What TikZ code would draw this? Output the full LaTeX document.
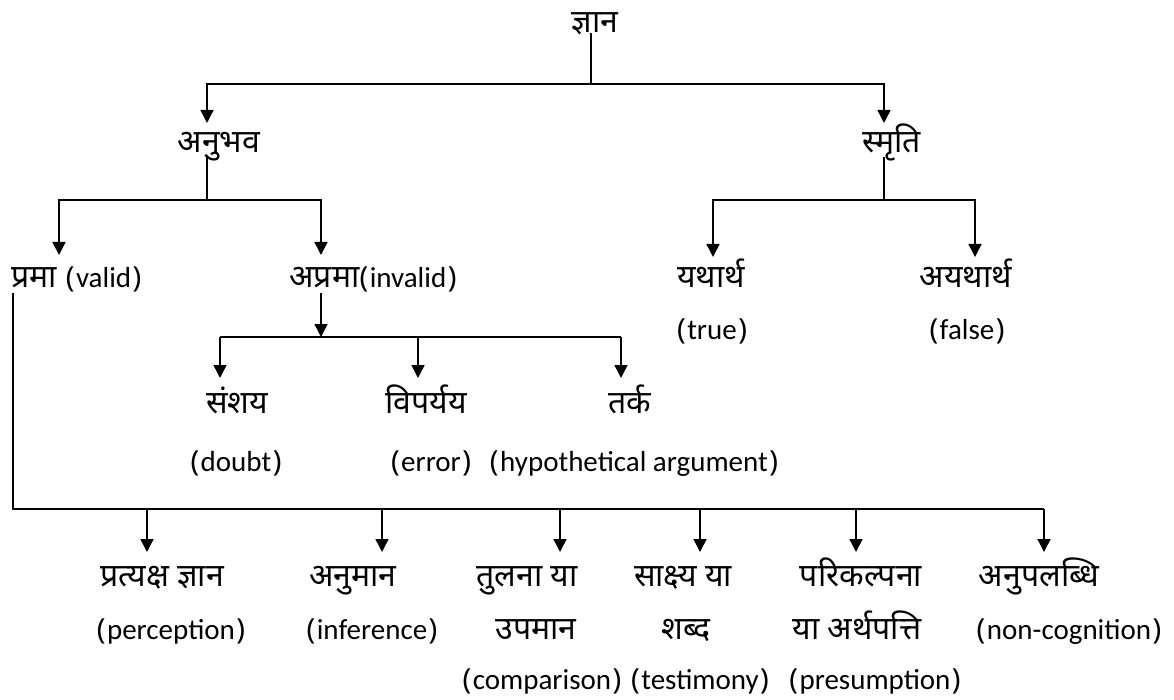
\documentclass[tikz,border=0pt]{standalone}
\usepackage{fontspec}
\setmainfont{Carlito}
\newfontfamily\deva[Script=Devanagari]{Noto Sans}
\newcommand{\enpar}[1]{{\deva(}\hspace{1.5pt}#1\hspace{1.5pt}{\deva)}}
\usetikzlibrary{arrows.meta}

\begin{document}
\begin{tikzpicture}[
    x=1pt, y=-1pt,
    hi/.style={inner sep=0pt, anchor=base, font=\deva\fontsize{32}{36}\selectfont},
    en/.style={inner sep=0pt, anchor=base, font=\fontsize{29}{34}\selectfont},
    link/.style={line width=1.5pt},
    arrow/.style={-{Triangle[width=13pt,length=13pt]}, line width=1.5pt}
]
\useasboundingbox (0,0) rectangle (1174,700);

% Top levels
\node[hi] (gyan) at (595,33) {ज्ञान};
\node[hi] (anubhav) at (219,153) {अनुभव};
\node[hi] (smriti) at (892,153) {स्मृति};

% Second level
\node[en, anchor=base west] (prama) at (11,288) {{\deva\fontsize{32}{36}\selectfont प्रमा}\hspace{9pt}\enpar{valid}};
\node[en] (aprama) at (373,288) {{\deva\fontsize{32}{36}\selectfont अप्रमा}\enpar{invalid}};
\node[hi] (yatharth) at (711,288) {यथार्थ};
\node[en] (true) at (712,339) {\enpar{true}};
\node[hi] (ayatharth) at (966,288) {अयथार्थ};
\node[en] (false) at (967,339) {\enpar{false}};

% Kinds of aprama
\node[hi] (sanshay) at (237,413) {संशय};
\node[en] (doubt) at (236,471) {\enpar{doubt}};
\node[hi] (viparyay) at (426,413) {विपर्यय};
\node[en] (error) at (431,471) {\enpar{error}};
\node[hi] (tark) at (630,413) {तर्क};
\node[en] (hypo) at (634,471) {\enpar{hypothetical argument}};

% Kinds of prama
\node[hi] (pratyaksh) at (162,586) {प्रत्यक्ष ज्ञान};
\node[en] (perception) at (171,639) {\enpar{perception}};
\node[hi] (anumaan) at (353,586) {अनुमान};
\node[en] (inference) at (372,639) {\enpar{inference}};
\node[hi] (tulna) at (527,586) {तुलना या};
\node[hi] (upmaan) at (536,639) {उपमान};
\node[en] (comparison) at (542,689) {\enpar{comparison}};
\node[hi] (sakshya) at (683,586) {साक्ष्य या};
\node[hi] (shabd) at (686,639) {शब्द};
\node[en] (testimony) at (700,689) {\enpar{testimony}};
\node[hi] (parikalpana) at (861,586) {परिकल्पना};
\node[hi] (arthapatti) at (857,639) {या अर्थपत्ति};
\node[en] (presumption) at (875,689) {\enpar{presumption}};
\node[hi] (anupalabdhi) at (1039,586) {अनुपलब्धि};
\node[en] (noncog) at (1069,639) {\enpar{non-cognition}};

% Junctions and arrow tips
\coordinate (gJ) at (591,84);
\coordinate (anT) at (207,123);
\coordinate (smT) at (884,123);
\coordinate (anJ) at (207,200);
\coordinate (prT) at (59,255);
\coordinate (apT) at (321,255);
\coordinate (smJ) at (884,200);
\coordinate (yaT) at (713,257);
\coordinate (ayT) at (975,257);
\coordinate (apJ) at (321,337);
\coordinate (saT) at (220,378);
\coordinate (viT) at (418,378);
\coordinate (taT) at (621,378);
\coordinate (prB) at (13,509);
\coordinate (b1) at (147,552);
\coordinate (b2) at (382,552);
\coordinate (b3) at (560,552);
\coordinate (b4) at (700,552);
\coordinate (b5) at (856,552);
\coordinate (b6) at (1044,552);

% gyan
\draw[link] (gyan.base -| gJ) -- (gJ);
\draw[arrow] (gJ) -| (anT);
\draw[arrow] (gJ) -| (smT);

% anubhav
\draw[link] ([yshift=-4pt]anubhav.base -| anJ) -- (anJ);
\draw[arrow] (anJ) -| (prT);
\draw[arrow] (anJ) -| (apT);

% smriti
\draw[link] ([yshift=-4pt]smriti.base -| smJ) -- (smJ);
\draw[arrow] (smJ) -| (yaT);
\draw[arrow] (smJ) -| (ayT);

% aprama
\draw[arrow] ([yshift=-5pt]aprama.base -| apJ) -- (apJ);
\draw[link] (saT |- apJ) -- (taT |- apJ);
\draw[arrow] (saT |- apJ) -- (saT);
\draw[arrow] (viT |- apJ) -- (viT);
\draw[arrow] (taT |- apJ) -- (taT);

% prama
\draw[link] ([yshift=-5pt]prama.base -| prB) -- (prB) -- (b6 |- prB);
\draw[arrow] (b1 |- prB) -- (b1);
\draw[arrow] (b2 |- prB) -- (b2);
\draw[arrow] (b3 |- prB) -- (b3);
\draw[arrow] (b4 |- prB) -- (b4);
\draw[arrow] (b5 |- prB) -- (b5);
\draw[arrow] (b6 |- prB) -- (b6);

\end{tikzpicture}
\end{document}
